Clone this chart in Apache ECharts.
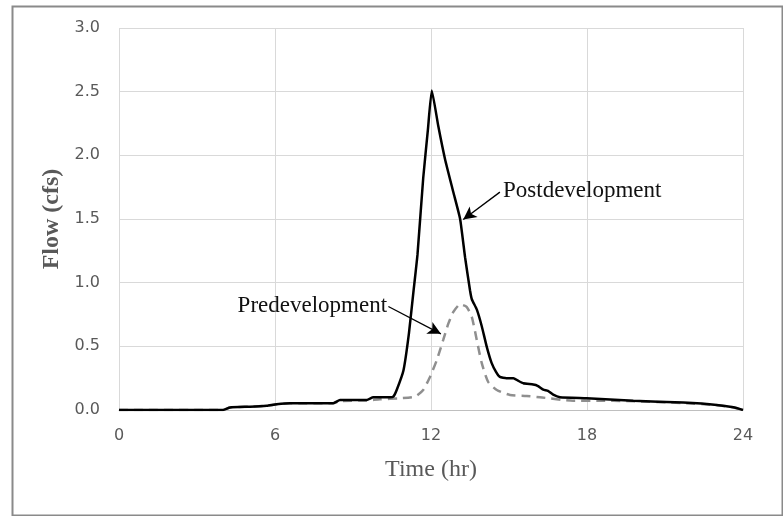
<!DOCTYPE html>
<html>
<head>
<meta charset="utf-8">
<script src="https://cdn.jsdelivr.net/npm/echarts@6/dist/echarts.min.js"></script>
<style>
html,body{margin:0;padding:0;background:#fff;}
#chart{width:783px;height:516px;}
</style>
</head>
<body>
<div id="chart"></div>
<script>
// Postdevelopment hydrograph (hr, cfs)
var postTime = [0, 4.0, 4.27, 5.04, 5.68, 6.06, 6.58, 8.24, 8.5, 9.53, 9.78, 10.42, 10.55, 10.68, 10.94, 11.15, 11.32, 11.48, 11.70, 11.88, 12.03, 12.28, 12.54, 12.86, 13.12, 13.31, 13.5, 13.57, 13.76, 13.95, 14.14, 14.33, 14.5, 14.65, 14.9, 15.17, 15.35, 15.55, 15.93, 16.1, 16.32, 16.5, 16.7, 16.96, 17.99, 19.78, 21.7, 22.99, 23.63, 24];
var postFlow = [0, 0, 0.02, 0.026, 0.034, 0.045, 0.053, 0.053, 0.079, 0.079, 0.10, 0.10, 0.105, 0.157, 0.31, 0.6, 0.92, 1.22, 1.82, 2.2, 2.51, 2.23, 1.97, 1.71, 1.50, 1.20, 0.94, 0.87, 0.79, 0.66, 0.50, 0.37, 0.30, 0.26, 0.25, 0.25, 0.23, 0.21, 0.20, 0.19, 0.16, 0.15, 0.12, 0.10, 0.092, 0.073, 0.058, 0.04, 0.021, 0];
// Predevelopment hydrograph (hr, cfs)
var preTime = [0, 4.0, 4.27, 5.04, 5.68, 6.06, 6.58, 8.24, 8.5, 9.5, 10.04, 10.81, 11.38, 11.7, 11.96, 12.22, 12.47, 12.67, 12.86, 13.12, 13.37, 13.57, 13.76, 13.95, 14.2, 14.53, 15.04, 15.68, 16.19, 17.47, 18.5, 19.5, 21.7, 23.0, 23.63, 24];
var preFlow = [0, 0, 0.02, 0.026, 0.034, 0.045, 0.053, 0.053, 0.07, 0.075, 0.084, 0.092, 0.105, 0.157, 0.26, 0.39, 0.55, 0.68, 0.77, 0.83, 0.81, 0.73, 0.55, 0.37, 0.22, 0.157, 0.118, 0.11, 0.10, 0.073, 0.073, 0.07, 0.055, 0.038, 0.02, 0];
// Axis ticks
var xTicks = [0, 6, 12, 18, 24];
var yTicks = [0, 0.5, 1.0, 1.5, 2.0, 2.5, 3.0];
// Annotations
var postLabel = {text: 'Postdevelopment', at: [14.77, 1.72], arrowFrom: [14.65, 1.711], arrowTo: [13.24, 1.496]};
var preLabel = {text: 'Predevelopment', at: [10.31, 0.82], arrowFrom: [10.36, 0.813], arrowTo: [12.38, 0.598]};

function pairs(t, v){ return t.map(function(x,i){ return [x, v[i]]; }); }

var chart = echarts.init(document.getElementById('chart'), null, {renderer:'canvas'});
var serif = '"Liberation Serif", "Times New Roman", serif';
var sans = '"DejaVu Sans", sans-serif';
var gridColor = '#d9d9d9';

chart.setOption({
  animation: false,
  backgroundColor: '#fff',
  graphic: [{
    type: 'rect', left: 10, top: 4,
    shape: {width: 770, height: 509},
    style: {fill: 'none', stroke: '#8a8a8a', lineWidth: 2},
    silent: true
  }],
  grid: {left: 119, right: 40, top: 28, bottom: 106, containLabel: false},
  xAxis: {
    type: 'value', min: xTicks[0], max: xTicks[xTicks.length-1], interval: 6,
    name: 'Time (hr)', nameLocation: 'middle', nameGap: 48,
    nameTextStyle: {fontFamily: serif, fontSize: 24, color: '#595959'},
    axisLine: {show: true, lineStyle: {color: '#bfbfbf', width: 1}},
    axisTick: {show: false},
    axisLabel: {fontFamily: sans, fontSize: 16, color: '#595959', margin: 18},
    splitLine: {show: true, lineStyle: {color: gridColor, width: 1}}
  },
  yAxis: {
    type: 'value', min: yTicks[0], max: yTicks[yTicks.length-1], interval: 0.5,
    name: 'Flow (cfs)', nameLocation: 'middle', nameGap: 52,
    nameTextStyle: {fontFamily: serif, fontSize: 24, color: '#595959', fontWeight: 'bold'},
    axisLine: {show: false},
    axisTick: {show: false},
    axisLabel: {fontFamily: sans, fontSize: 16, color: '#595959', margin: 19,
      formatter: function(v){ return v.toFixed(1); }},
    splitLine: {show: true, lineStyle: {color: gridColor, width: 1}}
  },
  series: [
    {
      name: 'Predevelopment', type: 'line', data: pairs(preTime, preFlow),
      showSymbol: false, symbol: 'none', z: 2,
      smooth: 0.2,
      lineStyle: {color: '#8f8f8f', width: 2.5, type: [9, 6]},
      markPoint: {
        silent: true, symbol: 'circle', symbolSize: 0,
        data: [{coord: preLabel.at, value: preLabel.text}],
        label: {show: true, position: 'left', distance: 0, formatter: preLabel.text,
          fontFamily: serif, fontSize: 23, color: '#111'}
      },
      markLine: {
        silent: true, symbol: ['none', 'arrow'], symbolSize: [10, 13],
        label: {show: false},
        lineStyle: {color: '#000', width: 1.3, type: 'solid'},
        data: [[{coord: preLabel.arrowFrom}, {coord: preLabel.arrowTo}]]
      }
    },
    {
      name: 'Postdevelopment', type: 'line', data: pairs(postTime, postFlow),
      showSymbol: false, symbol: 'none', z: 3,
      smooth: 0.15,
      lineStyle: {color: '#000', width: 2.5},
      markPoint: {
        silent: true, symbol: 'circle', symbolSize: 0,
        data: [{coord: postLabel.at, value: postLabel.text}],
        label: {show: true, position: 'right', distance: 0, formatter: postLabel.text,
          fontFamily: serif, fontSize: 23, color: '#111'}
      },
      markLine: {
        silent: true, symbol: ['none', 'arrow'], symbolSize: [10, 13],
        label: {show: false},
        lineStyle: {color: '#000', width: 1.3, type: 'solid'},
        data: [[{coord: postLabel.arrowFrom}, {coord: postLabel.arrowTo}]]
      }
    }
  ]
});
</script>
</body>
</html>
